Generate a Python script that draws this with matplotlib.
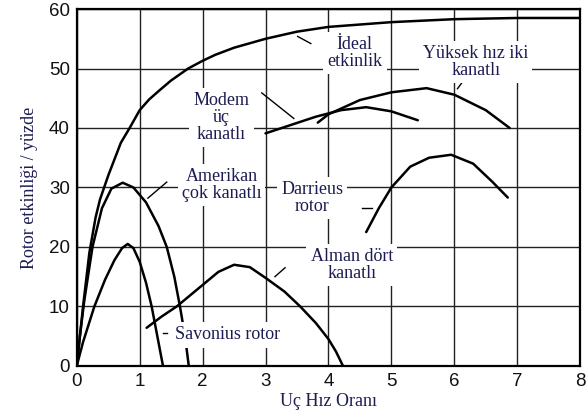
import matplotlib
matplotlib.use('Agg')
import matplotlib.pyplot as plt

# curve data (tip speed ratio, efficiency %)
ideal_x = [0, 0.05, 0.1, 0.2, 0.3, 0.37, 0.5, 0.7, 0.84, 1.0, 1.15, 1.3, 1.5, 1.77, 2.0, 2.2, 2.5, 3.0, 3.5, 4.0, 5.0, 6.0, 7.0, 8.0]
ideal_y = [0, 5, 10, 19, 25, 28, 32, 37.5, 40, 43, 44.8, 46.2, 48, 50, 51.3, 52.3, 53.5, 55, 56.2, 57, 57.8, 58.3, 58.5, 58.5]

amerikan_x = [0, 0.05, 0.12, 0.25, 0.4, 0.55, 0.73, 0.9, 1.1, 1.3, 1.43, 1.55, 1.64, 1.72, 1.78]
amerikan_y = [0, 5, 11, 20, 26.5, 29.8, 30.8, 30, 27.5, 23.5, 20, 15, 10, 5, 0]

savonius_x = [0, 0.1, 0.28, 0.45, 0.6, 0.72, 0.81, 0.9, 1.0, 1.1, 1.19, 1.28, 1.37]
savonius_y = [0, 4, 10, 14.5, 17.8, 19.8, 20.5, 19.8, 17.5, 14, 10, 5, 0]

alman_x = [1.11, 1.35, 1.59, 2.0, 2.25, 2.5, 2.75, 3.0, 3.3, 3.55, 3.8, 4.0, 4.12, 4.23]
alman_y = [6.4, 8.3, 10, 13.6, 15.8, 17, 16.6, 14.8, 12.5, 10, 7.2, 4.5, 2.4, 0]

modern_x = [3.0, 3.4, 3.8, 4.2, 4.6, 5.0, 5.42]
modern_y = [39.1, 40.5, 41.9, 43, 43.5, 42.8, 41.3]

yuksek_x = [3.83, 4.0, 4.5, 5.0, 5.56, 6.0, 6.5, 6.88]
yuksek_y = [40.9, 42.3, 44.7, 46, 46.7, 45.6, 43, 40]

darrieus_x = [4.6, 4.8, 5.0, 5.3, 5.6, 5.95, 6.3, 6.6, 6.85]
darrieus_y = [22.5, 26.5, 30, 33.5, 35, 35.5, 34, 31, 28.3]

labels = ['İdeal\netkinlik', 'Yüksek hız iki\nkanatlı', 'Modem\nüç\nkanatlı',
          'Amerikan\nçok kanatlı', 'Darrieus\nrotor', 'Alman dört\nkanatlı', 'Savonius rotor']
label_x = [4.42, 6.34, 2.30, 2.30, 3.74, 4.37, 2.40]
label_y = [52.6, 51.1, 41.8, 30.4, 28.2, 17.0, 5.2]

# leader lines from labels to curves
leaders = [
    ([3.51, 3.72], [55.4, 54.2]),
    ([6.05, 6.12], [46.6, 47.6]),
    ([2.94, 3.45], [45.9, 41.6]),
    ([1.13, 1.43], [28.2, 30.9]),
    ([4.53, 4.69], [26.6, 26.6]),
    ([3.15, 3.31], [15.0, 16.5]),
    ([1.37, 1.43], [5.5, 5.5]),
]

text_color = '#1c1c52'

fig = plt.figure(figsize=(5.86, 4.12), dpi=100)
ax = fig.add_axes([0.131, 0.112, 0.859, 0.866])

for xs, ys in [(ideal_x, ideal_y), (amerikan_x, amerikan_y), (savonius_x, savonius_y),
               (alman_x, alman_y), (modern_x, modern_y), (yuksek_x, yuksek_y),
               (darrieus_x, darrieus_y)]:
    ax.plot(xs, ys, color='black', lw=1.8, solid_capstyle='round', solid_joinstyle='round', zorder=3)

for xs, ys in leaders:
    ax.plot(xs, ys, color='black', lw=1.0, zorder=3)

for t, x, y in zip(labels, label_x, label_y):
    ax.text(x, y, t, ha='center', va='center', fontsize=13, color=text_color,
            family='Liberation Serif', linespacing=1.0, zorder=4,
            bbox=dict(facecolor='white', edgecolor='none', pad=3))

ax.set_xlim(0, 8)
ax.set_ylim(0, 60)
ax.set_xticks(range(0, 9))
ax.set_yticks(range(0, 61, 10))
ax.grid(True, color='#222222', lw=1.0, zorder=1)
ax.set_axisbelow(True)
ax.tick_params(length=0, labelsize=13.5, pad=5, colors='#111111')
for lab in ax.get_xticklabels() + ax.get_yticklabels():
    lab.set_family('Liberation Sans')
for s in ax.spines.values():
    s.set_linewidth(1.6)

ax.set_xlabel('Uç Hız Oranı', family='Liberation Serif', fontsize=13, color=text_color, labelpad=2)
ax.set_ylabel('Rotor etkinliği / yüzde', family='Liberation Serif', fontsize=13, color=text_color, labelpad=8)

fig.savefig('out.png', dpi=100)
